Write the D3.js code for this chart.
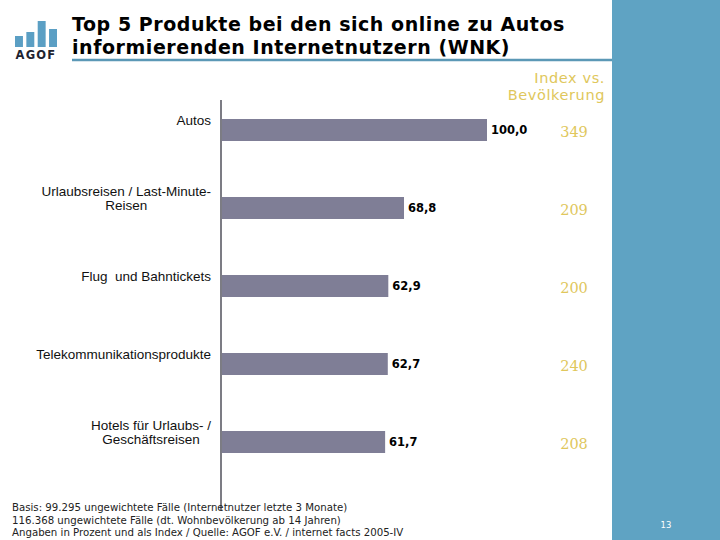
<!DOCTYPE html>
<html>
<head>
<meta charset="utf-8">
<script src="https://cdn.jsdelivr.net/npm/d3@7/dist/d3.min.js"></script>
<style>
  html, body { margin: 0; padding: 0; background: #fff; }
  svg { display: block; }
  .cat { white-space: pre; }
</style>
</head>
<body>
<div id="chart"></div>
<script>
// Top 5 Produkte – Anteil (Prozent, Autos = 100) und Index vs. Bevölkerung
const categories = [
  ['Autos'],
  ['Urlaubsreisen / Last-Minute-', 'Reisen'],
  ['Flug  und Bahntickets'],
  ['Telekommunikationsprodukte'],
  ['Hotels für Urlaubs- /', 'Geschäftsreisen']
];
const values = [100.0, 68.8, 62.9, 62.7, 61.7];
const indexValues = [349, 209, 200, 240, 208];
const titleLines = [
  'Top 5 Produkte bei den sich online zu Autos',
  'informierenden Internetnutzern (WNK)'
];
const footnotes = [
  'Basis: 99.295 ungewichtete Fälle (Internetnutzer letzte 3 Monate)',
  '116.368 ungewichtete Fälle (dt. Wohnbevölkerung ab 14 Jahren)',
  'Angaben in Prozent und als Index / Quelle: AGOF e.V. / internet facts 2005-IV'
];
// AGOF logo bar heights (relative)
const logoBars = [11, 15, 26, 18];

const W = 720, H = 540;
const BLUE = '#5fa3c3';
const BAR = '#7f7e96';
const GOLD = '#e0c75c';

const svg = d3.select('#chart').append('svg')
  .attr('width', W).attr('height', H);

// Right-hand blue panel
svg.append('rect')
  .attr('x', 612).attr('y', 0).attr('width', W - 612).attr('height', H)
  .attr('fill', BLUE);

svg.append('text')
  .attr('x', 666).attr('y', 528)
  .attr('text-anchor', 'middle')
  .attr('font-family', '"DejaVu Sans", sans-serif')
  .attr('font-size', 8.5).attr('fill', '#fff')
  .text('13');

/* ---------- Logo ---------- */
const logo = svg.append('g');
const lx = d3.scaleBand().domain(d3.range(logoBars.length)).range([15, 57]).paddingInner(0.3);
const lh = d3.scaleLinear().domain([0, 26]).range([0, 26]);
logo.selectAll('rect').data(logoBars).enter().append('rect')
  .attr('x', (d, i) => lx(i))
  .attr('y', d => 47 - lh(d))
  .attr('width', lx.bandwidth())
  .attr('height', d => lh(d))
  .attr('fill', '#5b9fc4');
logo.append('text')
  .attr('x', 36).attr('y', 59)
  .attr('text-anchor', 'middle')
  .attr('font-family', '"DejaVu Sans", Verdana, sans-serif')
  .attr('font-weight', 'bold').attr('font-size', 11.5)
  .attr('fill', '#1e2430')
  .attr('letter-spacing', 1.2)
  .text('AGOF');

/* ---------- Title ---------- */
svg.selectAll('.title').data(titleLines).enter().append('text')
  .attr('class', 'title')
  .attr('x', 72).attr('y', (d, i) => 31 + i * 23)
  .attr('font-family', '"DejaVu Sans", Verdana, sans-serif')
  .attr('font-weight', 'bold').attr('font-size', 19)
  .attr('letter-spacing', 0.55)
  .attr('fill', '#000')
  .text(d => d);

svg.append('line')
  .attr('x1', 72).attr('x2', 612)
  .attr('y1', 60).attr('y2', 60)
  .attr('stroke', '#5b98b6').attr('stroke-width', 2.5);

/* ---------- Index header ---------- */
['Index vs.', 'Bevölkerung'].forEach((t, i) => {
  svg.append('text')
    .attr('x', 605).attr('y', 83 + i * 17)
    .attr('text-anchor', 'end')
    .attr('font-family', '"DejaVu Sans", Verdana, sans-serif')
    .attr('font-size', 14.5).attr('letter-spacing', 0.6)
    .attr('fill', GOLD)
    .text(t);
});

/* ---------- Bars ---------- */
const x = d3.scaleLinear().domain([0, 100]).range([221, 487]);
const y = d3.scalePoint().domain(d3.range(values.length)).range([130, 442]);
const barH = 22;

const g = svg.append('g');

g.selectAll('.bar').data(values).enter().append('rect')
  .attr('class', 'bar')
  .attr('x', x(0))
  .attr('y', (d, i) => y(i) - barH / 2)
  .attr('width', d => x(d) - x(0))
  .attr('height', barH)
  .attr('fill', BAR);

// Axis line
g.append('line')
  .attr('x1', x(0)).attr('x2', x(0))
  .attr('y1', 100).attr('y2', 510)
  .attr('stroke', '#7c7c84').attr('stroke-width', 2);

// Value labels
g.selectAll('.val').data(values).enter().append('text')
  .attr('class', 'val')
  .attr('x', d => x(d) + 4)
  .attr('y', (d, i) => y(i) + 4)
  .attr('font-family', '"DejaVu Sans", Verdana, sans-serif')
  .attr('font-weight', 'bold').attr('font-size', 11.5)
  .attr('fill', '#000')
  .text(d => d.toFixed(1).replace('.', ','));

// Category labels: centred block, right edge at 211, centred on bar top
const labelRight = 211;
categories.forEach((lines, i) => {
  const top = y(i) - barH / 2;
  const lineH = 14;
  const y0 = top + 1 - (lines.length - 1) * lineH / 2 + 4.5;
  const texts = lines.map((t, j) => g.append('text')
    .attr('class', 'cat')
    .attr('y', y0 + j * lineH)
    .attr('text-anchor', 'middle')
    .attr('font-family', 'Tahoma, "Liberation Sans", Arial, sans-serif')
    .attr('font-size', 13.5).attr('fill', '#111')
    .text(t));
  const maxW = d3.max(texts, t => t.node().getComputedTextLength());
  texts.forEach(t => t.attr('x', labelRight - maxW / 2));
});

// Index values
g.selectAll('.idx').data(indexValues).enter().append('text')
  .attr('class', 'idx')
  .attr('x', 574)
  .attr('y', (d, i) => y(i) + 7)
  .attr('text-anchor', 'middle')
  .attr('font-family', '"DejaVu Serif", "Liberation Serif", serif')
  .attr('font-size', 14.5).attr('fill', GOLD)
  .text(d => d);

/* ---------- Footnotes ---------- */
svg.selectAll('.foot').data(footnotes).enter().append('text')
  .attr('class', 'foot')
  .attr('x', 12).attr('y', (d, i) => 511 + i * 12.5)
  .attr('font-family', '"DejaVu Sans", Tahoma, sans-serif')
  .attr('font-size', 10.2).attr('fill', '#222')
  .text(d => d);
</script>
</body>
</html>
